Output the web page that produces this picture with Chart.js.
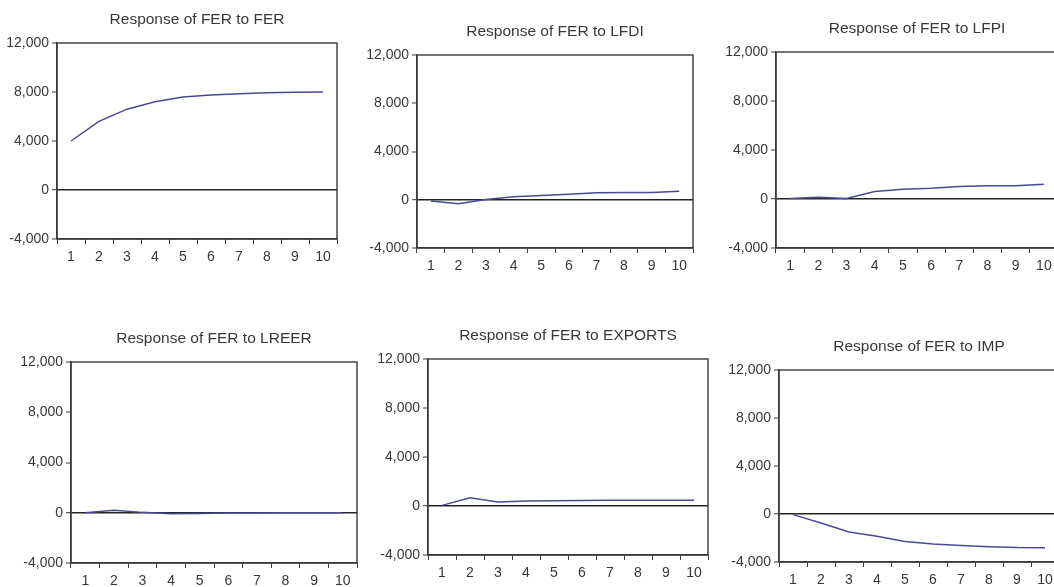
<!DOCTYPE html>
<html>
<head>
<meta charset="utf-8">
<title>Impulse responses of FER</title>
<script src="https://cdn.jsdelivr.net/npm/chart.js@4.4.1/dist/chart.umd.min.js"></script>
<style>
  html, body { margin: 0; padding: 0; background: #ffffff; overflow: hidden; width: 1054px; height: 587px; }
  .panel { position: absolute; }
  .panel canvas { display: block; }
</style>
</head>
<body>
<script>
// Horizon (periods) and tick labels
const periods = ['1', '2', '3', '4', '5', '6', '7', '8', '9', '10'];
const yTickMin = -4000;
const yTickMax = 12000;
const yTickStep = 4000;

// Panel titles
const titles = [
  'Response of FER to FER',
  'Response of FER to LFDI',
  'Response of FER to LFPI',
  'Response of FER to LREER',
  'Response of FER to EXPORTS',
  'Response of FER to IMP'
];

// Impulse response of FER to each shock
const respFER     = [4000, 5600, 6600, 7200, 7600, 7750, 7860, 7940, 7980, 8000];
const respLFDI    = [-100, -330, 30, 250, 350, 460, 580, 600, 610, 700];
const respLFPI    = [50, 150, 50, 620, 800, 870, 1030, 1080, 1090, 1200];
const respLREER   = [0, 200, 30, -80, -60, -20, -10, 0, 0, 0];
const respEXPORTS = [50, 680, 320, 400, 420, 450, 460, 460, 460, 460];
const respIMP     = [-50, -750, -1500, -1850, -2300, -2500, -2620, -2720, -2800, -2820];

const series = [respFER, respLFDI, respLFPI, respLREER, respEXPORTS, respIMP];

// Plot-area boxes of the six panels: left, top, right, bottom
const boxes = [
  [57, 43, 337, 239],
  [417, 55, 693, 248],
  [776, 52, 1058, 248],
  [71, 362, 357, 563],
  [428, 359, 708, 555],
  [779, 370, 1059, 562]
];

const Y_AXIS_W = 57;
const TOP_SPACE = 38;
const X_AXIS_H = 30;
const RIGHT_PAD = 4;
const TEXT = '#383838';
const FRAME = '#3a3a3a';
const LINE = '#4a4a94';
const FONT = "'Liberation Sans', Arial, sans-serif";

// Frame around the plot area plus the centred panel title
const framePlugin = {
  id: 'panelFrame',
  afterDraw(chart, args, opts) {
    const a = chart.chartArea;
    const ctx = chart.ctx;
    ctx.save();
    ctx.strokeStyle = FRAME;
    ctx.lineWidth = 1.4;
    ctx.strokeRect(a.left, a.top, a.right - a.left, a.bottom - a.top);
    ctx.fillStyle = TEXT;
    ctx.font = "15.5px " + FONT;
    ctx.textAlign = 'center';
    ctx.textBaseline = 'middle';
    ctx.fillText(opts.text, (a.left + a.right) / 2, a.top - 23);
    ctx.restore();
  }
};

boxes.forEach((b, i) => {
  const [L, T, R, B] = b;
  const canvasW = Y_AXIS_W + (R - L) + RIGHT_PAD;
  const canvasH = TOP_SPACE + (B - T) + X_AXIS_H;
  const wrap = document.createElement('div');
  wrap.className = 'panel';
  wrap.style.left = (L - Y_AXIS_W) + 'px';
  wrap.style.top = (T - TOP_SPACE) + 'px';
  wrap.style.width = canvasW + 'px';
  wrap.style.height = canvasH + 'px';
  const cv = document.createElement('canvas');
  cv.width = canvasW;
  cv.height = canvasH;
  cv.style.width = canvasW + 'px';
  cv.style.height = canvasH + 'px';
  wrap.appendChild(cv);
  document.body.appendChild(wrap);

  new Chart(cv, {
    type: 'line',
    data: {
      labels: periods,
      datasets: [{
        data: series[i],
        borderColor: LINE,
        borderWidth: 1.5,
        pointRadius: 0,
        tension: 0,
        fill: false
      }]
    },
    options: {
      responsive: false,
      maintainAspectRatio: false,
      animation: false,
      devicePixelRatio: 1,
      layout: { padding: { top: TOP_SPACE, right: RIGHT_PAD, left: 0, bottom: 0 } },
      plugins: {
        legend: { display: false },
        tooltip: { enabled: false },
        title: { display: false },
        panelFrame: { text: titles[i] }
      },
      scales: {
        x: {
          type: 'category',
          offset: true,
          grid: {
            offset: true,
            drawOnChartArea: false,
            drawTicks: true,
            tickLength: 5,
            tickColor: FRAME,
            tickWidth: 1
          },
          border: { display: true, color: FRAME, width: 1.4 },
          ticks: {
            color: TEXT,
            font: { family: FONT, size: 14 },
            padding: 5,
            maxRotation: 0,
            autoSkip: false
          },
          afterFit(scale) { scale.height = X_AXIS_H; }
        },
        y: {
          min: yTickMin,
          max: yTickMax,
          grid: {
            drawOnChartArea: true,
            color: (c) => (c.tick && c.tick.value === 0) ? '#222222' : 'rgba(0,0,0,0)',
            lineWidth: (c) => (c.tick && c.tick.value === 0) ? 1.4 : 0,
            tickLength: 5,
            tickColor: FRAME,
            tickWidth: 1
          },
          border: { display: true, color: FRAME, width: 1.4 },
          ticks: {
            stepSize: yTickStep,
            color: TEXT,
            font: { family: FONT, size: 14 },
            padding: 3
          },
          afterFit(scale) { scale.width = Y_AXIS_W; }
        }
      }
    },
    plugins: [framePlugin]
  });
});
</script>
</body>
</html>
